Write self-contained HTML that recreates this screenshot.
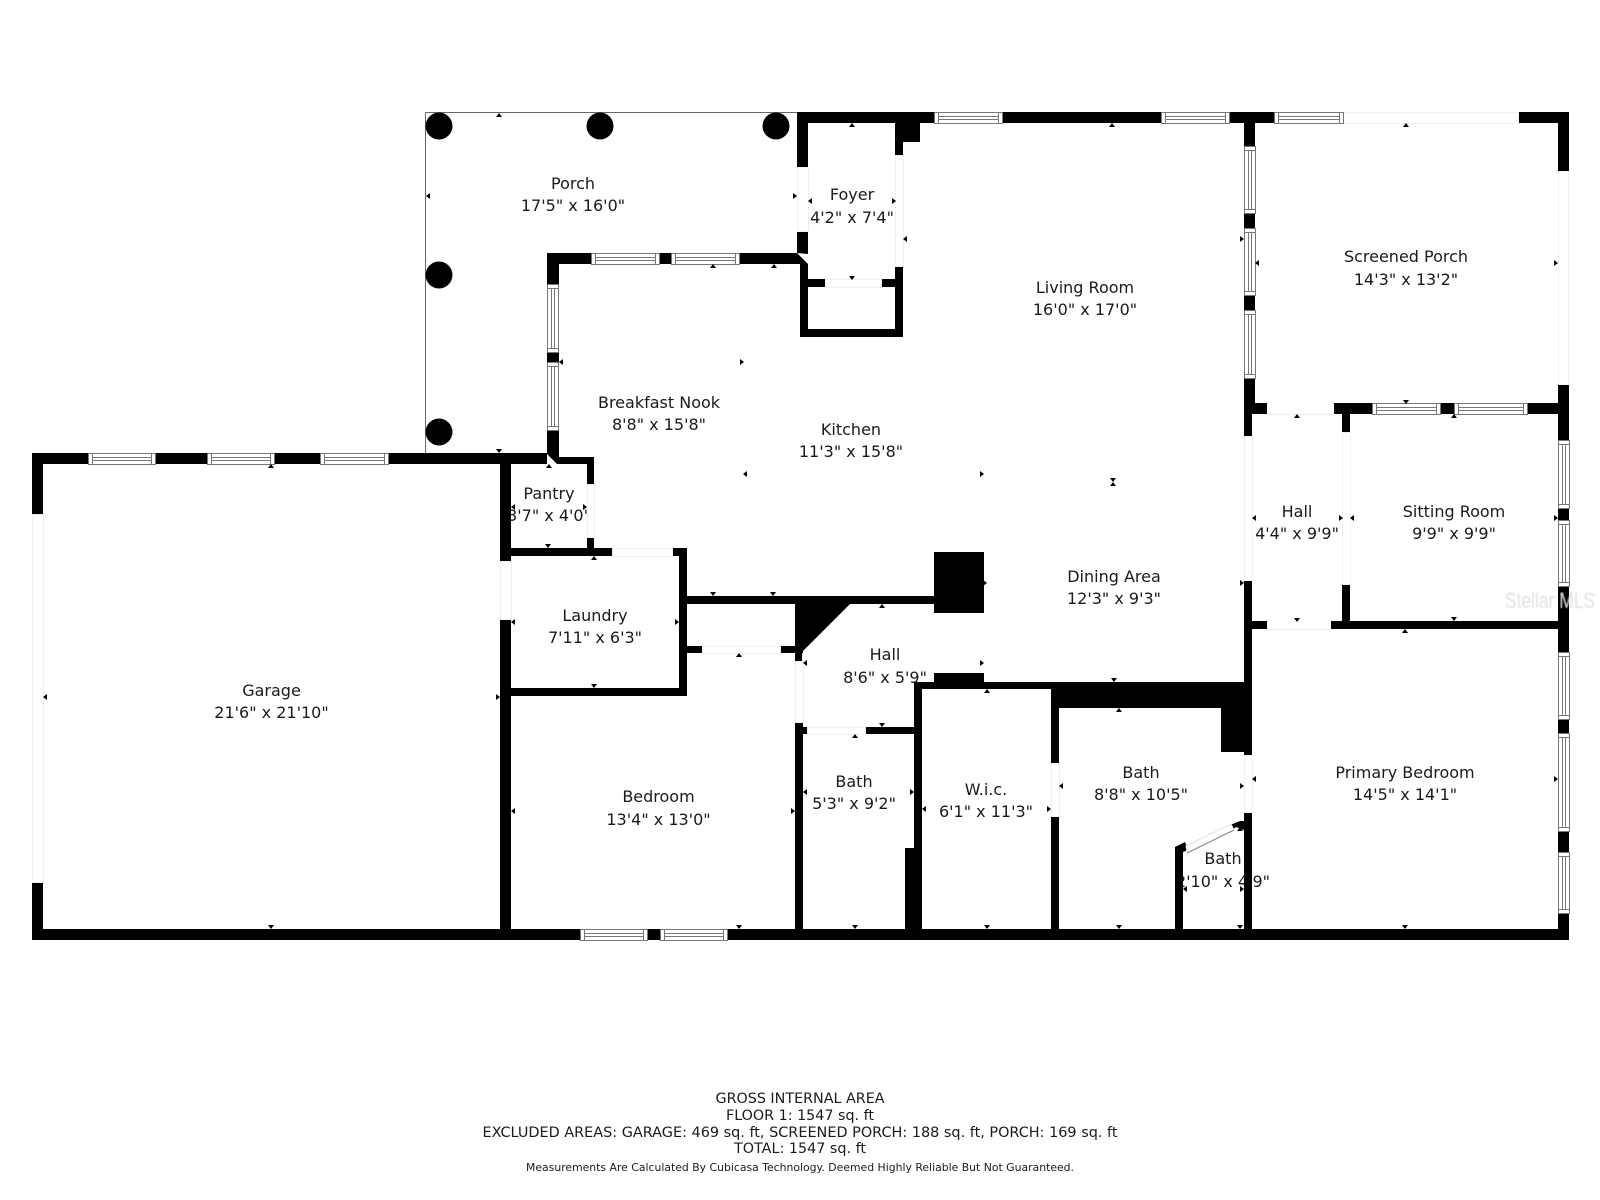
<!DOCTYPE html>
<html><head><meta charset="utf-8"><style>
html,body{margin:0;padding:0;background:#fff;width:1600px;height:1200px;overflow:hidden}
svg{display:block}
text{font-family:"DejaVu Sans","Liberation Sans",sans-serif;font-size:16px;fill:#1a1a1a;text-anchor:middle}
.b text{font-size:14px}
.d rect{fill:#fff;stroke:#f0f0f0;stroke-width:1}
.w rect{fill:#fff;stroke:#777;stroke-width:1}
.w path{fill:none;stroke:#777;stroke-width:1}
</style></head><body>
<svg width="1600" height="1200" viewBox="0 0 1600 1200" xmlns="http://www.w3.org/2000/svg">
<rect width="1600" height="1200" fill="#fff"/>
<path d="M797.5 112.500H425.500V453.500" fill="none" stroke="#666" stroke-width="1"/>
<g fill="#000"><circle cx="439" cy="126" r="13.5"/><circle cx="600" cy="126" r="13.5"/><circle cx="776" cy="126" r="13.5"/><circle cx="439" cy="275" r="13.5"/><circle cx="439" cy="432" r="13.5"/></g>

<g>
<text x="573" y="189">Porch</text><text x="573" y="211">17'5" x 16'0"</text>
<text x="852" y="200">Foyer</text><text x="852" y="223">4'2" x 7'4"</text>
<text x="659" y="408">Breakfast Nook</text><text x="659" y="430">8'8" x 15'8"</text>
<text x="851" y="435">Kitchen</text><text x="851" y="457">11'3" x 15'8"</text>
<text x="1085" y="293">Living Room</text><text x="1085" y="315">16'0" x 17'0"</text>
<text x="1406" y="262">Screened Porch</text><text x="1406" y="285">14'3" x 13'2"</text>
<text x="1297" y="517">Hall</text><text x="1297" y="539">4'4" x 9'9"</text>
<text x="1454" y="517">Sitting Room</text><text x="1454" y="539">9'9" x 9'9"</text>
<text x="1405" y="778">Primary Bedroom</text><text x="1405" y="800">14'5" x 14'1"</text>
<text x="1114" y="582">Dining Area</text><text x="1114" y="604">12'3" x 9'3"</text>
<text x="885" y="660">Hall</text><text x="885" y="683">8'6" x 5'9"</text>
<text x="854" y="787">Bath</text><text x="854" y="809">5'3" x 9'2"</text>
<text x="986" y="795">W.i.c.</text><text x="986" y="817">6'1" x 11'3"</text>
<text x="1141" y="778">Bath</text><text x="1141" y="800">8'8" x 10'5"</text>
<text x="1223" y="864">Bath</text><text x="1223" y="887">2'10" x 4'9"</text>
<text x="271.500" y="696">Garage</text><text x="271.500" y="718">21'6" x 21'10"</text>
<text x="549" y="499">Pantry</text><text x="549" y="521">3'7" x 4'0"</text>
<text x="595" y="621">Laundry</text><text x="595" y="643">7'11" x 6'3"</text>
<text x="658.500" y="802">Bedroom</text><text x="658.500" y="825">13'4" x 13'0"</text>
</g>

<path fill="#000" d="M797 112H1343V123H797zM1518 112H1569V123H1518zM797 112H808V167H797zM797 231H808V253H797zM895 112H920V142H895zM895 142H903V155H895zM895 266H903V337H895zM800 253H808V337H800zM800 329H903V337H800zM808 279H825V287H808zM881 279H895V287H881zM547 253H800V264H547zM797 253L808 264H797zM547 253H559V464H547zM559 457H594V464H559zM32 453H547V464H32zM32 453H43V514H32zM32 882H43V940H32zM32 929H1569V940H32zM500 453H511V561H500zM500 619H511V940H500zM587 457H594V484H587zM587 537H594V548H587zM511 548H612V556H511zM672 548H687V556H672zM679 548H687V696H679zM511 688H687V696H511zM687 596H934V604H687zM934 552H984V613H934zM795 604H850L802 652V661H795zM687 646H702V653H687zM780 646H803V653H780zM795 722H803V929H795zM795 727H807V734H795zM865 727H914V734H865zM914 682H922V929H914zM905 848H914V929H905zM914 682H1244V689H914zM934 673H984V682H934zM1051 682H1244V708H1051zM1221 708H1244V752H1221zM1051 682H1059V763H1051zM1051 816H1059V929H1051zM1244 581H1252V755H1244zM1244 812H1252V929H1244zM1175 848H1183V929H1175zM1244 112H1255V403H1244zM1244 403H1267V414H1244zM1244 403H1252V436H1244zM1334 403H1558V414H1334zM1342 414H1350V432H1342zM1558 112H1569V171H1558zM1558 385H1569V940H1558zM1252 621H1267V629H1252zM1331 621H1558V629H1331zM1342 584H1350V621H1342zM1175 847L1185 842L1188 850L1183 852V848H1175zM1230 825L1240 821H1244V830L1236 827L1232 830z"/>
<path fill="#fff" d="M547 454V464H557zM797 253L808 264V254z"/>

<g class="d">
<rect x="1343.500" y="112.500" width="175" height="11"/>
<rect x="1558.500" y="171.500" width="10" height="213"/>
<rect x="1244.500" y="436.500" width="8" height="144"/>
<rect x="1342.500" y="432.500" width="8" height="152"/>
<rect x="895.500" y="155.500" width="8" height="111"/>
<rect x="797.500" y="167.500" width="11" height="64"/>
<rect x="825.500" y="279.500" width="56" height="8"/>
<rect x="587.500" y="484.500" width="7" height="53"/>
<rect x="612.500" y="548.500" width="60" height="8"/>
<rect x="500.500" y="561.500" width="11" height="58"/>
<rect x="32.500" y="514.500" width="11" height="368"/>
<rect x="702.500" y="646.500" width="78" height="7"/>
<rect x="795.500" y="661.500" width="8" height="61"/>
<rect x="807.500" y="727.500" width="58" height="7"/>
<rect x="1051.500" y="763.500" width="8" height="53"/>
<rect x="1244.500" y="755.500" width="8" height="57"/>
</g>
<path d="M1267 414.500H1334M1267 629.500H1331" stroke="#eee" stroke-width="1" fill="none"/>
<polygon points="1186,846 1231,824 1234,830 1187,853" fill="#fff" stroke="#e2e2e2" stroke-width="1"/>
<line x1="1187" y1="853" x2="1234" y2="830" stroke="#888" stroke-width="1"/>

<g class="w">
<rect x="934.500" y="112.500" width="68" height="11"/><path d="M938.500 113V123M998.500 113V123M938.500 116.500H998.500M938.500 119.500H998.500"/>
<rect x="1161.500" y="112.500" width="68" height="11"/><path d="M1165.500 113V123M1225.500 113V123M1165.500 116.500H1225.500M1165.500 119.500H1225.500"/>
<rect x="1274.500" y="112.500" width="69" height="11"/><path d="M1278.500 113V123M1339.500 113V123M1278.500 116.500H1339.500M1278.500 119.500H1339.500"/>
<rect x="591.500" y="253.500" width="68" height="11"/><path d="M595.500 254V264M655.500 254V264M595.500 257.500H655.500M595.500 260.500H655.500"/>
<rect x="671.500" y="253.500" width="68" height="11"/><path d="M675.500 254V264M735.500 254V264M675.500 257.500H735.500M675.500 260.500H735.500"/>
<rect x="1372.500" y="403.500" width="68" height="11"/><path d="M1376.500 404V414M1436.500 404V414M1376.500 407.500H1436.500M1376.500 410.500H1436.500"/>
<rect x="1454.500" y="403.500" width="73" height="11"/><path d="M1458.500 404V414M1523.500 404V414M1458.500 407.500H1523.500M1458.500 410.500H1523.500"/>
<rect x="88.500" y="453.500" width="67" height="11"/><path d="M92.500 454V464M151.500 454V464M92.500 457.500H151.500M92.500 460.500H151.500"/>
<rect x="207.500" y="453.500" width="67" height="11"/><path d="M211.500 454V464M270.500 454V464M211.500 457.500H270.500M211.500 460.500H270.500"/>
<rect x="320.500" y="453.500" width="68" height="11"/><path d="M324.500 454V464M384.500 454V464M324.500 457.500H384.500M324.500 460.500H384.500"/>
<rect x="580.500" y="929.500" width="67" height="11"/><path d="M584.500 930V940M643.500 930V940M584.500 933.500H643.500M584.500 936.500H643.500"/>
<rect x="660.500" y="929.500" width="67" height="11"/><path d="M664.500 930V940M723.500 930V940M664.500 933.500H723.500M664.500 936.500H723.500"/>

<rect x="547.500" y="284.500" width="11" height="68"/><path d="M548 288.500H558M548 348.500H558M551.500 288.500V348.500M554.500 288.500V348.500"/>
<rect x="547.500" y="362.500" width="11" height="68"/><path d="M548 366.500H558M548 426.500H558M551.500 366.500V426.500M554.500 366.500V426.500"/>
<rect x="1244.500" y="146.500" width="11" height="67"/><path d="M1245 150.500H1255M1245 209.500H1255M1248.500 150.500V209.500M1251.500 150.500V209.500"/>
<rect x="1244.500" y="228.500" width="11" height="67"/><path d="M1245 232.500H1255M1245 291.500H1255M1248.500 232.500V291.500M1251.500 232.500V291.500"/>
<rect x="1244.500" y="310.500" width="11" height="68"/><path d="M1245 314.500H1255M1245 374.500H1255M1248.500 314.500V374.500M1251.500 314.500V374.500"/>
<rect x="1558.500" y="440.500" width="11" height="68"/><path d="M1559 444.500H1569M1559 504.500H1569M1562.500 444.500V504.500M1565.500 444.500V504.500"/>
<rect x="1558.500" y="520.500" width="11" height="66"/><path d="M1559 524.500H1569M1559 582.500H1569M1562.500 524.500V582.500M1565.500 524.500V582.500"/>
<rect x="1558.500" y="652.500" width="11" height="67"/><path d="M1559 656.500H1569M1559 715.500H1569M1562.500 656.500V715.500M1565.500 656.500V715.500"/>
<rect x="1558.500" y="733.500" width="11" height="98"/><path d="M1559 737.500H1569M1559 827.500H1569M1562.500 737.500V827.500M1565.500 737.500V827.500"/>
<rect x="1558.500" y="852.500" width="11" height="61"/><path d="M1559 856.500H1569M1559 909.500H1569M1562.500 856.500V909.500M1565.500 856.500V909.500"/>
</g>

<!-- dimension ticks -->
<path fill="#000" d="
M499 113l-3 4h6zM852 123l-3 4h6zM713 264l-3 4h6zM774 264l-3 4h6zM549 464l-3 4h6zM1112 123l-3 4h6zM1406 123l-3 4h6zM1297 414l-3 4h6zM1454 414l-3 4h6zM1113 482l-3 4h6zM271 464l-3 4h6zM594 556l-3 4h6zM739 653l-3 4h6zM882 604l-3 4h6zM987 689l-3 4h6zM1119 708l-3 4h6zM855 734l-3 4h6zM1240 827l-3 4h6zM1405 629l-3 4h6z
M852 280l-3-4h6zM499 453l-3-4h6zM1406 404l-3-4h6zM1113 482l-3-4h6zM271 929l-3-4h6zM548 548l-3-4h6zM594 688l-3-4h6zM713 596l-3-4h6zM773 596l-3-4h6zM739 929l-3-4h6zM1114 682l-3-4h6zM882 727l-3-4h6zM855 929l-3-4h6zM987 929l-3-4h6zM1119 929l-3-4h6zM1240 929l-3-4h6zM1297 622l-3-4h6zM1454 621l-3-4h6zM1405 929l-3-4h6z
M426 196l4-3v6zM808 201l4-3v6zM903 239l4-3v6zM559 362l4-3v6zM1255 263l4-3v6zM43 697l4-3v6zM511 507l4-3v6zM511 622l4-3v6zM511 811l4-3v6zM803 663l4-3v6zM803 792l4-3v6zM922 809l4-3v6zM1059 786l4-3v6zM1252 779l4-3v6zM1183 889l4-3v6zM1252 518l4-3v6zM1350 518l4-3v6zM743 474l4-3v6z
M797 196l-4-3v6zM896 201l-4-3v6zM744 362l-4-3v6zM1244 239l-4-3v6zM1558 263l-4-3v6zM984 474l-4-3v6zM500 697l-4-3v6zM587 507l-4-3v6zM679 622l-4-3v6zM795 811l-4-3v6zM987 583l-4-3v6zM984 663l-4-3v6zM914 792l-4-3v6zM1051 809l-4-3v6zM1244 786l-4-3v6zM1244 889l-4-3v6zM1244 583l-4-3v6zM1343 518l-4-3v6zM1558 518l-4-3v6zM1558 779l-4-3v6z"/>

<text x="1550" y="608" textLength="90" lengthAdjust="spacingAndGlyphs" style="font-family:'Liberation Sans',sans-serif;font-size:22px;fill:#e2e2e2;filter:blur(0.6px)">Stellar MLS</text>

<g class="b">
<text x="800" y="1103" textLength="169" lengthAdjust="spacingAndGlyphs">GROSS INTERNAL AREA</text>
<text x="800" y="1120" textLength="148" lengthAdjust="spacingAndGlyphs">FLOOR 1: 1547 sq. ft</text>
<text x="800" y="1137" textLength="635" lengthAdjust="spacingAndGlyphs">EXCLUDED AREAS: GARAGE: 469 sq. ft, SCREENED PORCH: 188 sq. ft, PORCH: 169 sq. ft</text>
<text x="800" y="1153" textLength="132" lengthAdjust="spacingAndGlyphs">TOTAL: 1547 sq. ft</text>
<text x="800" y="1171" textLength="548" lengthAdjust="spacingAndGlyphs" style="font-size:11px">Measurements Are Calculated By Cubicasa Technology. Deemed Highly Reliable But Not Guaranteed.</text>
</g>
</svg>
</body></html>
